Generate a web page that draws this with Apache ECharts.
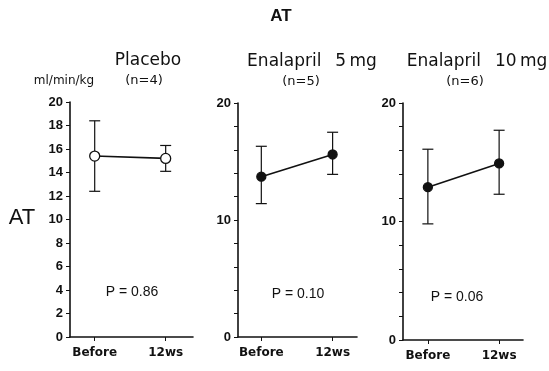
<!DOCTYPE html>
<html><head><meta charset="utf-8">
<script src="https://cdn.jsdelivr.net/npm/echarts@6/dist/echarts.min.js"></script>
<style>html,body{margin:0;padding:0;background:#fff}#c{width:549px;height:371px}</style>
</head><body><div id="c"></div>
<script>
const categories = ['Before', '12ws'];
const panelNames = ['Placebo', 'Enalapril\u2002 5\u2009mg', 'Enalapril\u2002 10\u2009mg'];
const panelN = ['(n=4)', '(n=5)', '(n=6)'];
const pValues = ['P = 0.86', 'P = 0.10', 'P = 0.06'];
const placeboMean = [15.4, 15.2];
const placeboUpper = [18.4, 16.3];
const placeboLower = [12.4, 14.1];
const ena5Mean = [13.7, 15.6];
const ena5Upper = [16.3, 17.5];
const ena5Lower = [11.4, 13.9];
const ena10Mean = [12.9, 14.9];
const ena10Upper = [16.1, 17.7];
const ena10Lower = [9.8, 12.3];
const yTicksPlacebo = [0,2,4,6,8,10,12,14,16,18,20];
const yTicksEna = [0,10,20];

const FONT = '"Liberation Sans", Arial, sans-serif';
const WFONT = '"DejaVu Sans", sans-serif';
const grids = [
  {left:70, top:102, width:123, height:235},
  {left:238, top:103, width:119, height:234},
  {left:403, top:103, width:120, height:237}
];
const xRanges = [[-0.348,1.385],[-0.327,1.342],[-0.349,1.335]];
const panels = [
  {mean:placeboMean, up:placeboUpper, lo:placeboLower, hollow:true},
  {mean:ena5Mean, up:ena5Upper, lo:ena5Lower, hollow:false},
  {mean:ena10Mean, up:ena10Upper, lo:ena10Lower, hollow:false}
];

const xAxis = grids.map((g,i)=>({
  type:'value', gridIndex:i, min:xRanges[i][0], max:xRanges[i][1],
  axisLine:{show:true, onZero:false, lineStyle:{color:'#111', width:1.6}},
  splitLine:{show:false},
  axisTick:{show:true, customValues:[0,1], length:4, lineStyle:{color:'#111', width:1}},
  axisLabel:{show:true, customValues:[0,1], formatter:v=>categories[Math.round(v)],
    color:'#111', fontFamily:WFONT, fontWeight:'bold', fontSize:12, margin:10}
}));
const yAxis = grids.map((g,i)=>({
  type:'value', gridIndex:i, min:0, max:20, interval:2,
  axisLine:{show:true, onZero:false, lineStyle:{color:'#111', width:1.6}},
  splitLine:{show:false},
  axisTick:{show:true, length:4, lineStyle:{color:'#111', width:1}},
  axisLabel:{show:true, color:'#111', fontFamily:FONT, fontWeight:'bold', fontSize:13, margin:7,
    formatter: v => (i===0 ? yTicksPlacebo : yTicksEna).includes(v) ? String(v) : ''}
}));

const series = [];
panels.forEach((p,i)=>{
  series.push({
    type:'custom', xAxisIndex:i, yAxisIndex:i, z:1,
    data: categories.map((c,k)=>[k, p.lo[k], p.up[k]]),
    renderItem:(params, api)=>{
      const x = api.value(0);
      const lo = api.coord([x, api.value(1)]);
      const hi = api.coord([x, api.value(2)]);
      const w = 5.5;
      const st = {stroke:'#111', lineWidth:1.2};
      return {type:'group', children:[
        {type:'line', shape:{x1:lo[0], y1:lo[1], x2:hi[0], y2:hi[1]}, style:st},
        {type:'line', shape:{x1:lo[0]-w, y1:lo[1], x2:lo[0]+w, y2:lo[1]}, style:st},
        {type:'line', shape:{x1:hi[0]-w, y1:hi[1], x2:hi[0]+w, y2:hi[1]}, style:st}
      ]};
    }
  });
  series.push({
    type:'line', xAxisIndex:i, yAxisIndex:i, z:3,
    data: categories.map((c,k)=>[k, p.mean[k]]),
    symbol:'circle', symbolSize: p.hollow ? 10 : 9,
    lineStyle:{color:'#111', width:1.6},
    itemStyle:{color: p.hollow ? '#fff' : '#111', borderColor:'#111', borderWidth:1.3},
    emphasis:{disabled:true}, animation:false
  });
});

const t = (text, x, y, size, font, weight) => ({type:'text', x, y,
  style:{text, fontSize:size, fontWeight:weight||'normal', fontFamily:font, fill:'#111', align:'center', verticalAlign:'middle'}});

const graphic = [
  t('AT', 281, 16, 17, FONT, 'bold'),
  t('AT', 22, 218, 22, FONT, 'normal'),
  t('ml/min/kg', 64, 81, 12, WFONT),
  t(panelNames[0], 148, 61, 17, WFONT),
  t(panelN[0], 144, 81, 13, WFONT),
  t(panelNames[1], 312, 62, 17, WFONT),
  t(panelN[1], 301, 82, 13, WFONT),
  t(panelNames[2], 477, 62, 17, WFONT),
  t(panelN[2], 465, 82, 13, WFONT),
  t(pValues[0], 132, 292, 14, FONT),
  t(pValues[1], 298, 294, 14, FONT),
  t(pValues[2], 457, 297, 14, FONT)
];

const chart = echarts.init(document.getElementById('c'), null, {renderer:'canvas'});
chart.setOption({
  backgroundColor:'#fff', animation:false,
  grid: grids, xAxis, yAxis, series, graphic
});
</script></body></html>
